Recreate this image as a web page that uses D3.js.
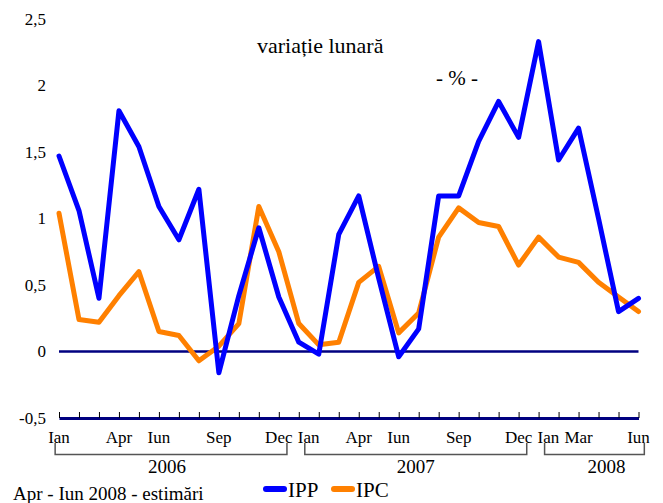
<!DOCTYPE html>
<html><head><meta charset="utf-8">
<script src="https://cdn.jsdelivr.net/npm/d3@7"></script>
<style>body{margin:0;background:#fff}svg{display:block}svg text{font-family:"Liberation Serif","Times New Roman",serif !important;fill:#000}</style>
</head><body><svg id="c" width="663" height="503"></svg>
<script>
// ---- data ----
const months = ["Ian 2006","Feb 2006","Mar 2006","Apr 2006","Mai 2006","Iun 2006","Iul 2006","Aug 2006","Sep 2006","Oct 2006","Nov 2006","Dec 2006",
                "Ian 2007","Feb 2007","Mar 2007","Apr 2007","Mai 2007","Iun 2007","Iul 2007","Aug 2007","Sep 2007","Oct 2007","Nov 2007","Dec 2007",
                "Ian 2008","Feb 2008","Mar 2008","Apr 2008","Mai 2008","Iun 2008"];
const ipp = [1.47,1.06,0.40,1.81,1.54,1.09,0.84,1.22,-0.16,0.42,0.93,0.41,
             0.07,-0.02,0.88,1.17,0.55,-0.04,0.17,1.17,1.17,1.58,1.88,1.61,
             2.33,1.44,1.68,1.00,0.30,0.40];
const ipc = [1.04,0.24,0.22,0.42,0.60,0.15,0.12,-0.07,0.04,0.21,1.09,0.75,
             0.21,0.05,0.07,0.52,0.64,0.14,0.29,0.86,1.08,0.97,0.94,0.65,
             0.86,0.71,0.67,0.52,0.41,0.30];
const labelIndex = [0,3,5,8,11,12,15,17,20,23,24,26,29];
const labelText  = ["Ian","Apr","Iun","Sep","Dec","Ian","Apr","Iun","Sep","Dec","Ian","Mar","Iun"];
const years = ["2006","2007","2008"];
const yearStart = [0,12,24];
const yearEnd = [11,23,29];
const yTicks = [-0.5,0,0.5,1,1.5,2,2.5];
const seriesNames = ["IPP","IPC"];
const title = "variație lunară";
const unit = "- % -";
const note = "Apr - Iun 2008 - estimări";

// ---- chart ----
const svg = d3.select("#c");
const x = d3.scaleLinear().domain([0, months.length - 1]).range([59, 638.5]);
const y = d3.scaleLinear().domain([-0.5, 2.5]).range([418, 19]);
const colors = {IPP:"#0000ff", IPC:"#ff8000"};
const navy = "#000080";

// y labels
const yAxis = d3.axisLeft(y).tickValues(yTicks).tickSize(0).tickPadding(0)
  .tickFormat(d => String(d).replace(".", ","));
const yg = svg.append("g").attr("transform","translate(46,0)").call(yAxis);
yg.attr("font-family", null).attr("font-size", null);
yg.select(".domain").remove();
yg.selectAll("text").attr("fill","#000").style("font-size","17px");

// zero line
svg.append("line").attr("x1", x(0)).attr("x2", x(months.length-1))
  .attr("y1", y(0)).attr("y2", y(0)).attr("stroke", navy).attr("stroke-width", 2.5);

// bottom axis with upward ticks
const xAxis = d3.axisBottom(x).tickValues(d3.range(months.length))
  .tickSizeInner(-6).tickSizeOuter(0).tickFormat("");
const xg = svg.append("g").attr("transform",`translate(0,${y(-0.5)})`).call(xAxis);
xg.selectAll(".tick line").attr("stroke","#000").attr("stroke-width",1);
xg.select(".domain").attr("stroke", navy).attr("stroke-width", 3);

// month labels
const lbl = svg.append("g");
const labelNodes = labelIndex.map((i, k) => {
  const first = (i === 12 || i === 24);
  return lbl.append("text")
    .attr("x", x(i) + (first ? -1 : 0))
    .attr("y", 443)
    .attr("text-anchor", first ? "start" : "middle")
    .style("font-size","17px")
    .text(labelText[k]).node();
});

// year brackets
const yearDx = [-4, 0, 12];
years.forEach((yr, k) => {
  const a = labelNodes[labelIndex.indexOf(yearStart[k])].getBBox();
  const b = labelNodes[labelIndex.indexOf(yearEnd[k])].getBBox();
  const x1 = a.x + 7, x2 = b.x + b.width - 6;
  svg.append("path")
    .attr("d", `M${x1},443V454.5H${x2}V443`)
    .attr("fill","none").attr("stroke","#555").attr("stroke-width",1.5);
  svg.append("text").attr("x", (x1 + x2) / 2 + yearDx[k]).attr("y", 473)
    .attr("text-anchor","middle").style("font-size","19px").text(yr);
});

// lines
const line = d3.line().x((d, i) => x(i)).y(d => y(d));
[["IPC", ipc], ["IPP", ipp]].forEach(([name, vals]) => {
  svg.append("path").datum(vals).attr("d", line)
    .attr("fill","none").attr("stroke", colors[name]).attr("stroke-width", 5)
    .attr("stroke-linejoin","round").attr("stroke-linecap","round");
});

// titles
svg.append("text").attr("x",257).attr("y",53).style("font-size","22px").text(title);
svg.append("text").attr("x",436).attr("y",85).style("font-size","21px").text(unit);

// legend
const legX = [266, 334];
seriesNames.forEach((name, k) => {
  svg.append("line").attr("x1", legX[k]).attr("x2", legX[k] + 18)
    .attr("y1", 489).attr("y2", 489).attr("stroke", colors[name])
    .attr("stroke-width", 6).attr("stroke-linecap","round");
  svg.append("text").attr("x", legX[k] + 22).attr("y", 497)
    .style("font-size","21px").text(name);
});

// note
svg.append("text").attr("x",13).attr("y",500).style("font-size","19px").text(note);
</script></body></html>
